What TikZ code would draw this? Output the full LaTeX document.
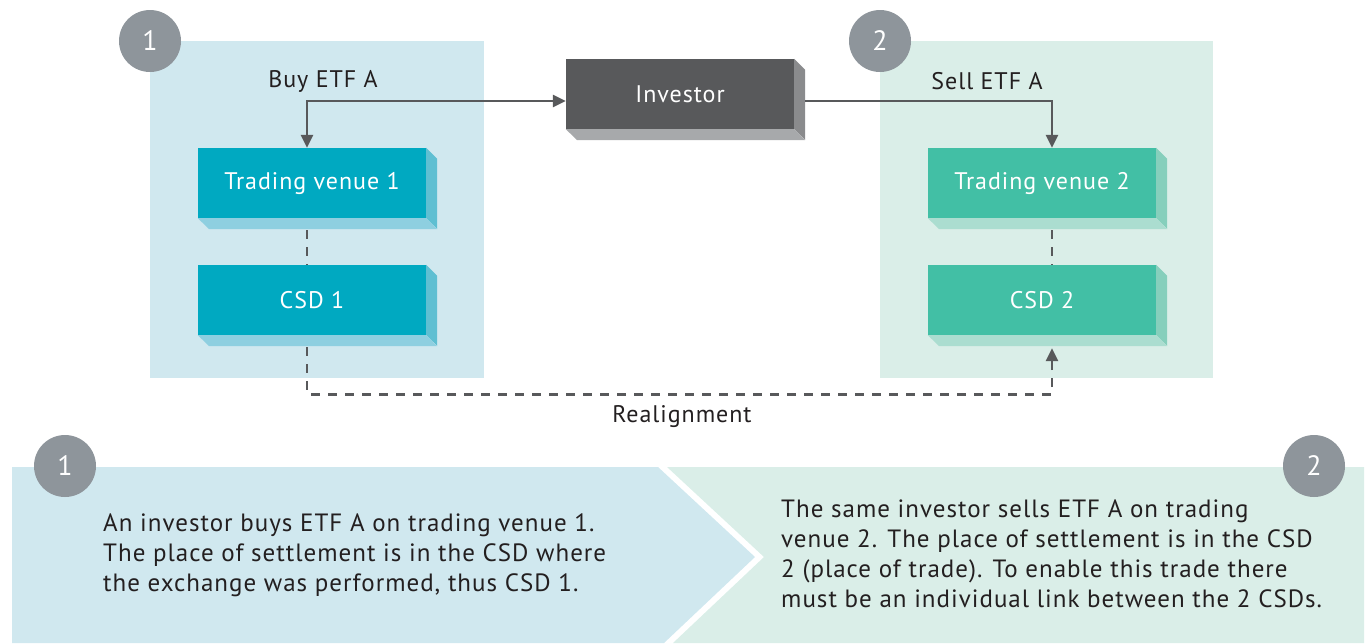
\documentclass[tikz,border=0pt]{standalone}
\usepackage{fontspec}
\setmainfont{PT Sans}
\newfontfamily\dinlike[LetterSpace=4]{PT Sans}
\usetikzlibrary{arrows.meta,calc}
\definecolor{panelblue}{HTML}{D0E8EF}
\definecolor{panelgreen}{HTML}{DAEEE8}
\definecolor{badgegray}{HTML}{8E959B}
\definecolor{linegray}{HTML}{58595B}
\definecolor{txt}{HTML}{231F20}
\definecolor{bfront}{HTML}{00A9C1}
\definecolor{bside}{HTML}{5FBFD2}
\definecolor{bbottom}{HTML}{8ECFE0}
\definecolor{gfront}{HTML}{42BFA5}
\definecolor{gside}{HTML}{86CFBC}
\definecolor{gbottom}{HTML}{ABDDD0}
\definecolor{ifront}{HTML}{58595B}
\definecolor{iside}{HTML}{8A8B8D}
\definecolor{ibottom}{HTML}{A7A9AB}
\tikzset{
  boxnode/.style={minimum width=228pt,minimum height=70pt,inner sep=0pt,text=white,font=\dinlike\fontsize{24}{28}\selectfont},
  badge/.style={circle,fill=badgegray,minimum size=62pt,inner sep=0pt,text=white,font=\fontsize{28}{32}\selectfont},
  lbl/.style={text=txt,font=\dinlike\fontsize{24}{28}\selectfont,inner sep=0pt},
  conn/.style={draw=linegray,line width=2.6pt,-{Triangle[length=13pt,width=12pt]}},
  dashconn/.style={draw=linegray,line width=2.6pt,dash pattern=on 9pt off 8pt},
  body/.style={text=txt,font=\dinlike\fontsize{25}{30}\selectfont,align=left,inner sep=0pt,anchor=north west}
}
\newcommand{\solidbox}[6]{% name, pos, front, side, bottom, text
  \node[boxnode,fill=#3] (#1) at #2 {#6};
  \fill[#4] (#1.north east) -- ++(11,11) -- ++(0,70) -- (#1.south east) -- cycle;
  \fill[#5] (#1.south west) -- (#1.south east) -- ++(11,11) -- ++(-228,0) -- cycle;
}
\begin{document}
\begin{tikzpicture}[x=1pt,y=-1pt]
\useasboundingbox (0,0) rectangle (1368,643);
% panels
\fill[panelblue] (150,41) rectangle (484,378);
\fill[panelgreen] (880,41) rectangle (1213,378);
\node[badge] (b1) at (150,41) {1};
\node[badge] (b2) at (880,41) {2};
% boxes
\solidbox{tv1}{(312,183)}{bfront}{bside}{bbottom}{Trading venue 1}
\solidbox{csd1}{(312,300)}{bfront}{bside}{bbottom}{CSD 1}
\solidbox{tv2}{(1042,183)}{gfront}{gside}{gbottom}{Trading venue 2}
\solidbox{csd2}{(1042,300)}{gfront}{gside}{gbottom}{CSD 2}
\solidbox{inv}{(680,94)}{ifront}{iside}{ibottom}{Investor}
% labels
\node[lbl] (buy) at (323,81) {Buy ETF A};
\node[lbl] (sell) at (987,81) {Sell ETF A};
% connectors
\draw[conn,{Triangle[length=13pt,width=12pt]}-{Triangle[length=13pt,width=12pt]}]
  ([yshift=-7pt]inv.west) -| ([xshift=-5pt]tv1.north);
\draw[conn] ([xshift=11pt,yshift=-7pt]inv.east) -| ([xshift=10pt]tv2.north);
\draw[dashconn] ([xshift=-5pt,yshift=-12pt]tv1.south) -- ([xshift=-5pt]csd1.north);
\draw[dashconn] ([xshift=10pt,yshift=-12pt]tv2.south) -- ([xshift=10pt]csd2.north);
\coordinate (r1) at ([xshift=-5pt,yshift=-12pt]csd1.south);
\coordinate (r2) at ([xshift=10pt,yshift=-13pt]csd2.south);
\draw[dashconn,-{Triangle[length=13pt,width=12pt]}] (r1) -- ++(0,47) -| (r2);
\node[lbl] (real) at (682,417) {Realignment};
% bottom band
\fill[panelblue] (12,467) -- (658,467) -- (755,557) -- (664,643) -- (12,643) -- cycle;
\fill[panelgreen] (667,467) -- (1364,467) -- (1364,643) -- (673,643) -- (764,557) -- cycle;
\node[badge] (b3) at (65,466) {1};
\node[badge] (b4) at (1314,466) {2};
\node[body] (t1) at (103,513) {An investor buys ETF A on trading venue 1.\\The place of settlement is in the CSD where\\the exchange was performed, thus CSD 1.};
\node[body] (t2) at (781,500) {The same investor sells ETF A on trading\\venue 2. The place of settlement is in the CSD\\2 (place of trade). To enable this trade there\\must be an individual link between the 2 CSDs.};
\end{tikzpicture}
\end{document}
